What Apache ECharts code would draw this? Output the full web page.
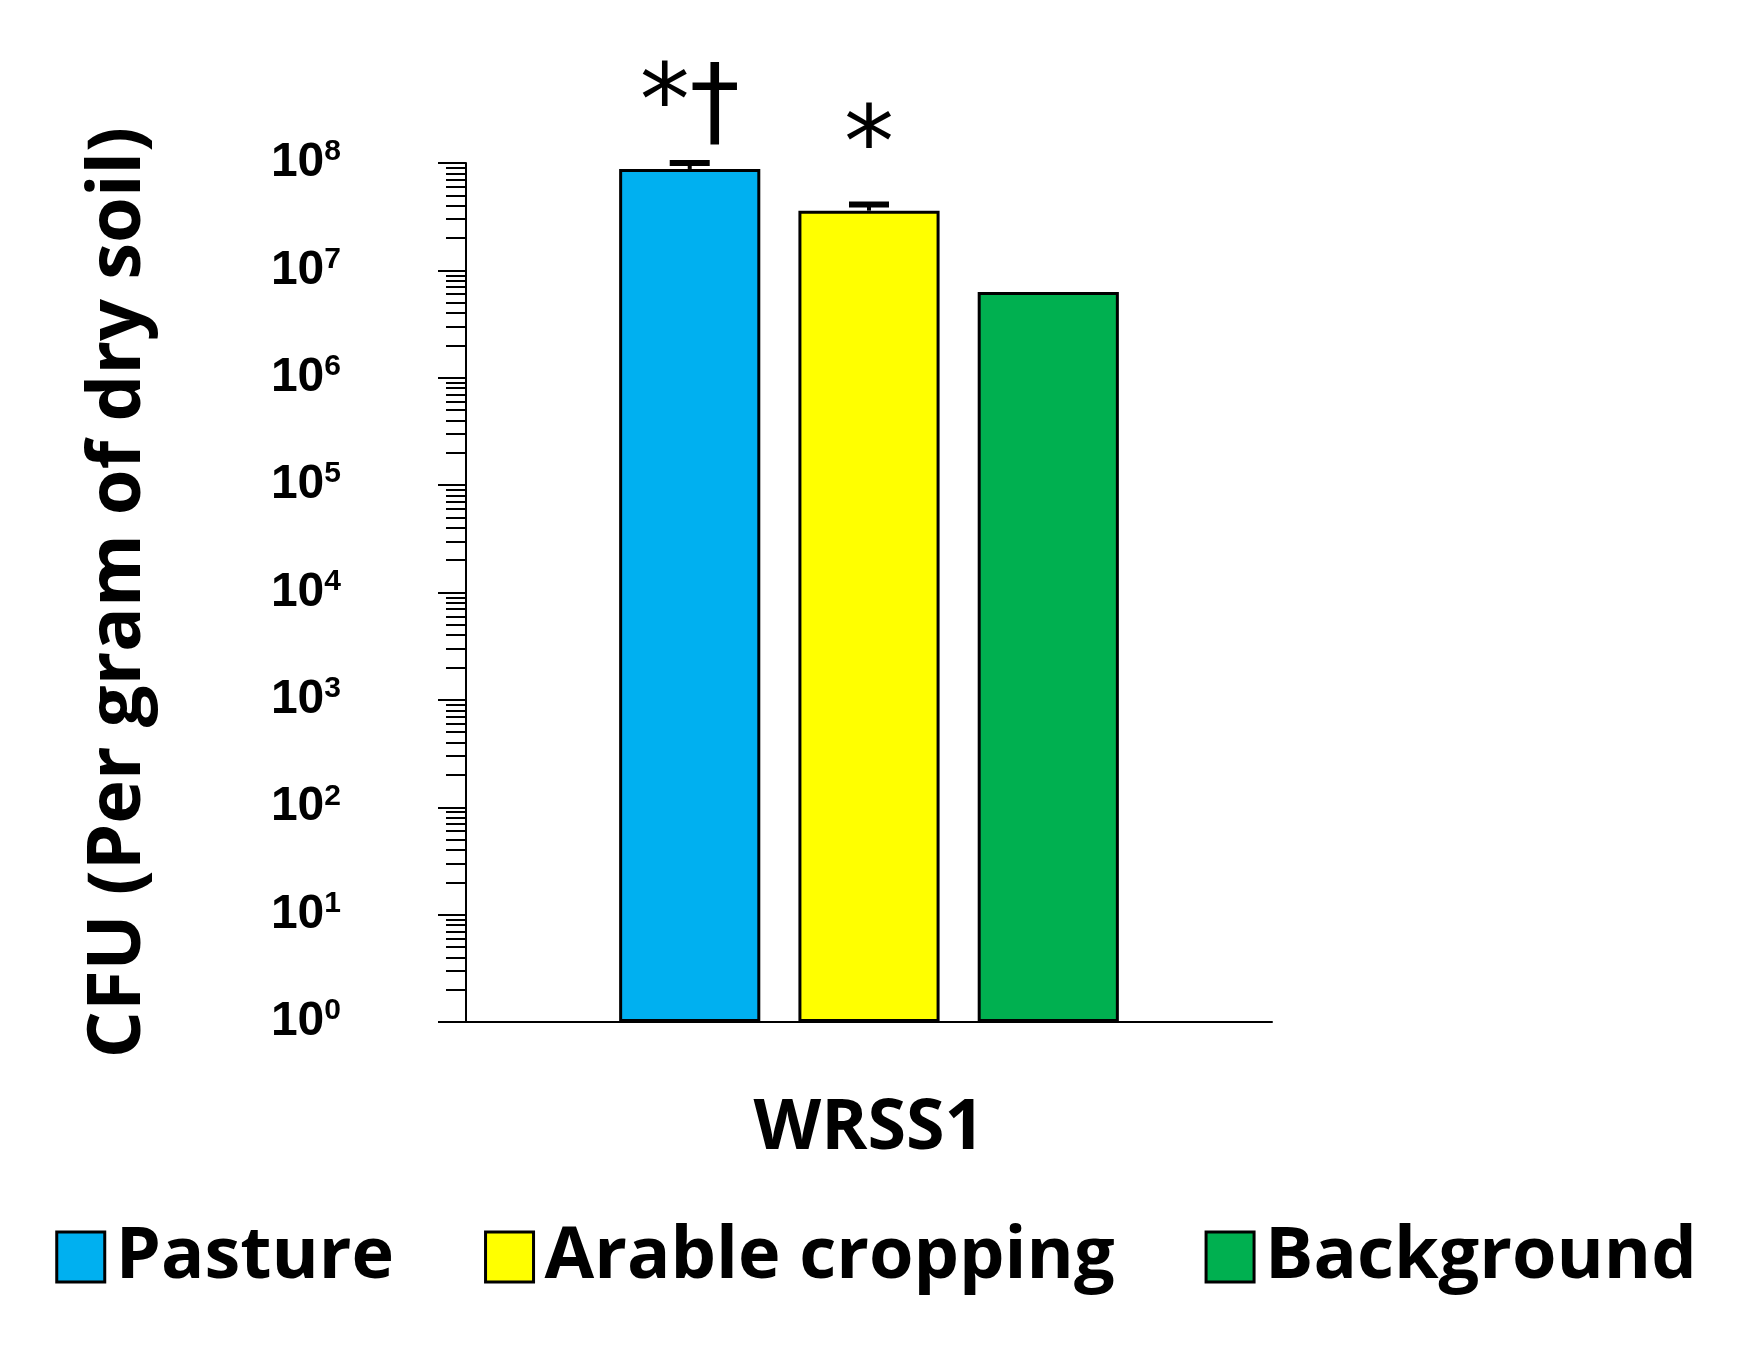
<!DOCTYPE html>
<html><head><meta charset="utf-8">
<script src="https://cdn.jsdelivr.net/npm/echarts@6/dist/echarts.min.js"></script>
<style>html,body{margin:0;background:#fff}#c{width:1752px;height:1348px}</style></head>
<body><div id="c"></div>
<script>
const categories = ['WRSS1'];
const seriesNames = ['Pasture', 'Arable cropping', 'Background'];
const values = [8.8e7, 3.6e7, 6.3e6];
const errUpper = [1.0e8, 4.1e7, null];
const marks = ['*†', '*', ''];
const colors = ['#00b0f0', '#ffff00', '#00b050'];

const chart = echarts.init(document.getElementById('c'));
const series = seriesNames.map((n, i) => ({
  name: n, type: 'bar', data: [values[i]],
  barGap: '27%', barCategoryGap: '38%',
  itemStyle: { color: colors[i], borderColor: '#000', borderWidth: 3 },
  label: { show: !!marks[i], position: 'top', distance: 10, formatter: marks[i],
    fontSize: 100, color: '#000', fontFamily: 'DejaVu Sans' }
}));
series.push({
  type: 'custom', name: 'err', silent: true,
  data: seriesNames.map((n, i) => [i, values[i], errUpper[i]]),
  renderItem: (p, api) => {
    const i = api.value(0);
    if (errUpper[i] == null) return;
    const bw = api.size([1, 0])[0] * 0.62 / (3 + 2 * 0.27);
    const cx = api.coord([0, 1])[0] - (bw * 1.27) + i * bw * 1.27;
    const y0 = api.coord([0, values[i]])[1];
    const y1 = api.coord([0, errUpper[i]])[1];
    return { type: 'group', children: [
      { type: 'line', shape: { x1: cx, y1: y0, x2: cx, y2: y1 }, style: { stroke: '#000', lineWidth: 4 } },
      { type: 'line', shape: { x1: cx - 20, y1: y1, x2: cx + 20, y2: y1 }, style: { stroke: '#000', lineWidth: 6 } }
    ]};
  }
});
chart.setOption({
  animation: false,
  grid: { left: 466, right: 480, top: 163, bottom: 326 },
  legend: {
    bottom: 50, left: 'center', icon: 'rect', itemWidth: 48, itemHeight: 50, itemGap: 90,
    textStyle: { fontSize: 72, fontWeight: 'bold', fontFamily: 'Open Sans', color: '#000', padding: [0,0,0,6] },
    data: seriesNames.map((n, i) => ({ name: n, itemStyle: { borderColor: '#000', borderWidth: 3 } }))
  },
  xAxis: {
    type: 'category', data: categories,
    axisLine: { onZero: false, lineStyle: { color: '#000', width: 2 } }, axisTick: { show: false },
    axisLabel: { margin: 72, fontSize: 70, fontWeight: 'bold', fontFamily: 'Open Sans', color: '#000' }
  },
  yAxis: {
    type: 'log', logBase: 10, min: 1, max: 1e8,
    name: 'CFU (Per gram of dry soil)', nameLocation: 'middle', nameGap: 310,
    nameTextStyle: { fontSize: 74, fontWeight: 'bold', fontFamily: 'Open Sans', color: '#000' },
    axisLine: { show: true, lineStyle: { color: '#000', width: 2 } },
    axisTick: { show: true, length: 28, lineStyle: { color: '#000', width: 2 } },
    minorTick: { show: true, splitNumber: 9, length: 20, lineStyle: { color: '#000', width: 2 } },
    splitLine: { show: false },
    axisLabel: { margin: 125, fontSize: 48, fontWeight: 'bold', fontFamily: 'Liberation Sans', color: '#000',
      formatter: v => '10' + '{s|' + Math.round(Math.log10(v)) + '}',
      rich: { s: { fontSize: 30, fontWeight: 'bold', fontFamily: 'Liberation Sans', verticalAlign: 'top', padding: [0,0,22,0], color:'#000' } } }
  },
  series
});
</script></body></html>
